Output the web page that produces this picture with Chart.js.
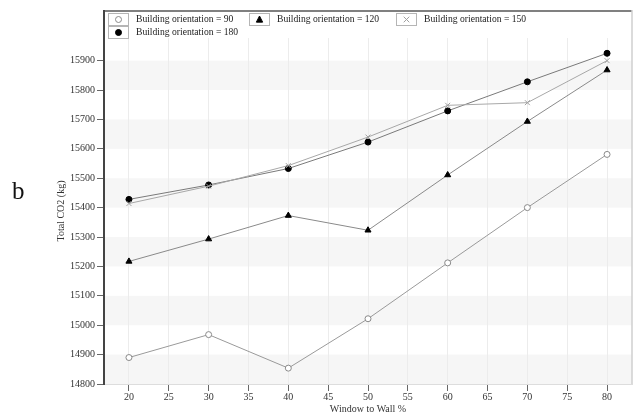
<!DOCTYPE html>
<html><head><meta charset="utf-8">
<script src="https://cdn.jsdelivr.net/npm/chart.js@4"></script>
<style>
html,body{margin:0;padding:0;background:#fff;}
#wrap{position:relative;width:637px;height:415px;}
#lbl{position:absolute;left:12px;top:178px;font:25px 'Liberation Serif';line-height:1;color:#111;}
</style>
</head><body>
<div id="wrap"><canvas id="c" width="637" height="415"></canvas><span id="lbl">b</span></div>
<script>
const wwr = [20, 30, 40, 50, 60, 70, 80];
const orient90  = [14890, 14968, 14854, 15022, 15212, 15400, 15581];
const orient120 = [15217, 15293, 15373, 15323, 15511, 15693, 15868];
const orient150 = [15414, 15473, 15543, 15640, 15748, 15757, 15900];
const orient180 = [15428, 15477, 15533, 15623, 15729, 15828, 15925];
const seriesLabels = ['Building orientation = 90', 'Building orientation = 120', 'Building orientation = 150', 'Building orientation = 180'];
const xTicks = [20, 25, 30, 35, 40, 45, 50, 55, 60, 65, 70, 75, 80];
const yTicks = [14800, 14900, 15000, 15100, 15200, 15300, 15400, 15500, 15600, 15700, 15800, 15900];
const xTitle = 'Window to Wall %';
const yTitle = 'Total CO2 (kg)';

const FONT = "'Liberation Serif', 'Times New Roman', serif";
const toPts = arr => arr.map((v, i) => ({x: wwr[i], y: v}));

const styles = [
  {pointStyle: 'circle', radius: 3, bg: '#ffffff', border: '#8a8a8a', line: '#9a9a9a'},
  {pointStyle: 'triangle', radius: 3.5, bg: '#000000', border: '#000000', line: '#8a8a8a'},
  {pointStyle: 'crossRot', radius: 3.5, bg: '#ffffff', border: '#a0a0a0', line: '#a8a8a8'},
  {pointStyle: 'circle', radius: 3, bg: '#000000', border: '#000000', line: '#7a7a7a'}
];
const allData = [orient90, orient120, orient150, orient180];

const datasets = allData.map((d, i) => ({
  label: seriesLabels[i],
  data: toPts(d),
  borderColor: styles[i].line,
  borderWidth: 1,
  backgroundColor: styles[i].bg,
  pointStyle: styles[i].pointStyle,
  pointRadius: styles[i].radius,
  pointBackgroundColor: styles[i].bg,
  pointBorderColor: styles[i].border,
  pointBorderWidth: 1,
  tension: 0
}));

const bandPlugin = {
  id: 'bands',
  beforeDraw(chart) {
    const {ctx, chartArea} = chart;
    const y = chart.scales.y;
    ctx.save();
    ctx.fillStyle = '#f6f6f6';
    for (let v = yTicks[0]; v < yTicks[yTicks.length - 1]; v += 200) {
      const y1 = y.getPixelForValue(v + 100), y2 = y.getPixelForValue(v);
      ctx.fillRect(chartArea.left, y1, chartArea.right - chartArea.left, y2 - y1);
    }
    ctx.restore();
  }
};

function drawMarker(ctx, st, cx, cy) {
  ctx.save();
  ctx.lineWidth = 1;
  ctx.strokeStyle = st.border;
  ctx.fillStyle = st.bg;
  const r = st.radius;
  if (st.pointStyle === 'circle') {
    ctx.beginPath(); ctx.arc(cx, cy, r, 0, Math.PI * 2); ctx.fill(); ctx.stroke();
  } else if (st.pointStyle === 'triangle') {
    ctx.beginPath();
    ctx.moveTo(cx, cy - r); ctx.lineTo(cx + r * 0.9, cy + r * 0.75); ctx.lineTo(cx - r * 0.9, cy + r * 0.75);
    ctx.closePath(); ctx.fill(); ctx.stroke();
  } else {
    const d = r * 0.8;
    ctx.beginPath();
    ctx.moveTo(cx - d, cy - d); ctx.lineTo(cx + d, cy + d);
    ctx.moveTo(cx + d, cy - d); ctx.lineTo(cx - d, cy + d);
    ctx.stroke();
  }
  ctx.restore();
}

const framePlugin = {
  id: 'frame',
  afterDraw(chart) {
    const {ctx, chartArea} = chart;
    ctx.save();
    ctx.strokeStyle = '#808080'; ctx.lineWidth = 2;
    ctx.beginPath(); ctx.moveTo(chartArea.left - 1, 11); ctx.lineTo(chartArea.right, 11); ctx.stroke();
    ctx.strokeStyle = '#444444';
    ctx.beginPath(); ctx.moveTo(chartArea.left, 10); ctx.lineTo(chartArea.left, chartArea.bottom); ctx.stroke();
    ctx.strokeStyle = '#cfcfcf'; ctx.lineWidth = 1.5;
    ctx.beginPath(); ctx.moveTo(chartArea.right, 10); ctx.lineTo(chartArea.right, chartArea.bottom); ctx.stroke();
    const pos = [[108, 19], [249, 19], [396, 19], [108, 32]];
    ctx.font = '9.6px ' + FONT;
    ctx.textBaseline = 'middle';
    ctx.textAlign = 'left';
    seriesLabels.forEach((t, i) => {
      const [x, y] = pos[i];
      ctx.fillStyle = '#ffffff';
      ctx.fillRect(x, y - 6, 20, 12);
      ctx.strokeStyle = '#b5b5b5'; ctx.lineWidth = 1;
      ctx.strokeRect(x + 0.5, y - 5.5, 20, 12);
      drawMarker(ctx, styles[i], x + 10.5, y + 0.5);
      ctx.fillStyle = '#222222';
      ctx.fillText(t, x + 28, y + 0.5);
    });
    ctx.restore();
  }
};

new Chart(document.getElementById('c'), {
  type: 'line',
  data: {datasets},
  options: {
    responsive: false,
    animation: false,
    devicePixelRatio: 1,
    layout: {padding: {left: 55, top: 38, right: 4, bottom: 0}},
    plugins: {legend: {display: false}, tooltip: {enabled: false}},
    scales: {
      x: {
        type: 'linear', min: 16.87, max: 83.13,
        afterBuildTicks: s => { s.ticks = xTicks.map(v => ({value: v})); },
        ticks: {font: {family: FONT, size: 10}, color: '#333', padding: 0, maxRotation: 0, autoSkip: false, callback: v => String(v)},
        grid: {color: '#ececec', lineWidth: 1, tickLength: 7, tickColor: '#666'},
        border: {color: '#dddddd', width: 1},
        title: {display: true, text: xTitle, font: {family: FONT, size: 10}, color: '#333', padding: {top: 0, bottom: 0}}
      },
      y: {
        type: 'linear', min: 14800, max: 15977,
        afterBuildTicks: s => { s.ticks = yTicks.map(v => ({value: v})); },
        afterFit: s => { s.width = 49; },
        ticks: {font: {family: FONT, size: 10}, color: '#333', padding: 2, callback: v => String(v)},
        grid: {color: 'rgba(0,0,0,0)', tickLength: 7, tickColor: '#666'},
        border: {color: '#444444', width: 2},
        title: {display: true, text: yTitle, font: {family: FONT, size: 10}, color: '#333', padding: {top: 0, bottom: 0}}
      }
    }
  },
  plugins: [bandPlugin, framePlugin]
});
</script>
</body></html>
